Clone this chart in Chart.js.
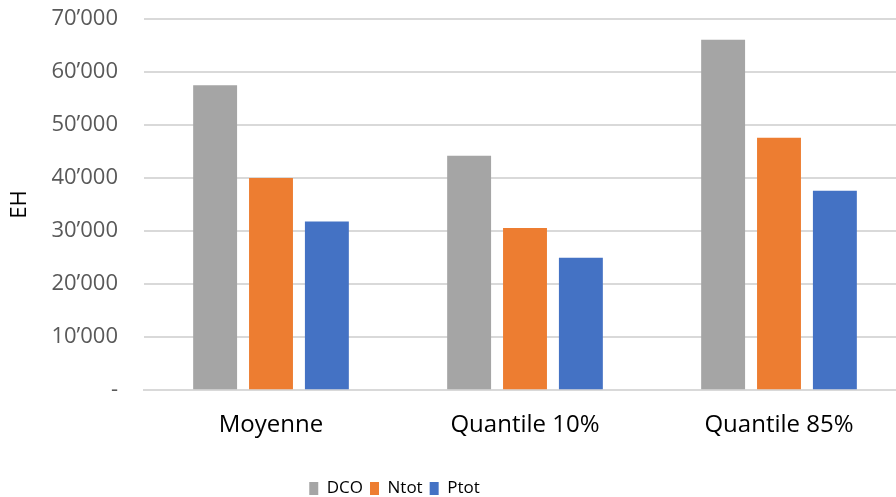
<!DOCTYPE html>
<html lang="fr">
<head>
  <meta charset="UTF-8" />
  <title>EH par indicateur</title>
  <script src="https://cdn.jsdelivr.net/npm/chart.js@4.4.0/dist/chart.umd.min.js"></script>
  <style>
    html, body { margin: 0; padding: 0; background: #fff; overflow: hidden; }
    #wrap { width: 906px; height: 497px; position: relative; }
  </style>
</head>
<body>
  <div id="wrap"><canvas id="chart"></canvas></div>

  <script>
    const categories = ['Moyenne', 'Quantile 10%', 'Quantile 85%'];
    const dco = [57500, 44200, 66100];
    const ntot = [40000, 30600, 47600];
    const ptot = [31800, 25000, 37600];
    const seriesNames = ['DCO', 'Ntot', 'Ptot'];
    const seriesColors = ['#A5A5A5', '#ED7D31', '#4472C4'];

    function formatThousands(v) {
      if (v === 0) return '-';
      return String(v).replace(/\B(?=(\d{3})+(?!\d))/g, '\u2019');
    }

    // move the legend a bit left and down, like the original layout
    const legendShift = {
      id: 'legendShift',
      afterLayout(chart) {
        const lg = chart.legend;
        lg.left -= 62;
        lg.right -= 62;
        lg.top += 12;
        lg.bottom += 12;
      }
    };

    const ctx = document.getElementById('chart');
    new Chart(ctx, {
      type: 'bar',
      data: {
        labels: categories,
        datasets: [dco, ntot, ptot].map((d, i) => ({
          label: seriesNames[i],
          data: d,
          backgroundColor: seriesColors[i],
          borderWidth: 0,
          categoryPercentage: 0.66,
          barPercentage: 0.786
        }))
      },
      options: {
        responsive: true,
        maintainAspectRatio: false,
        animation: false,
        layout: { padding: { top: 0, left: 7, right: 0, bottom: 2 } },
        plugins: {
          legend: {
            position: 'bottom',
            labels: {
              boxWidth: 9,
              boxHeight: 13,
              padding: 7,
              color: '#000',
              font: { family: 'Open Sans', size: 17 }
            }
          },
          tooltip: { enabled: false }
        },
        scales: {
          x: {
            grid: { display: false, drawTicks: false },
            border: { color: '#d9d9d9', width: 2 },
            ticks: {
              color: '#000',
              padding: 21,
              font: { family: 'Open Sans', size: 24 }
            }
          },
          y: {
            min: 0,
            max: 70000,
            afterFit(s) {
              s.width = 137;
              s.paddingTop = 19;
              s.paddingBottom = 13;
            },
            title: {
              display: true,
              text: 'EH',
              color: '#000',
              font: { family: 'Open Sans', size: 22 },
              padding: 0
            },
            border: { display: false },
            grid: { color: '#d9d9d9', lineWidth: 2, drawTicks: false },
            ticks: {
              stepSize: 10000,
              color: '#595959',
              padding: 26,
              font: { family: 'Open Sans', size: 22 },
              callback: v => formatThousands(v)
            }
          }
        }
      },
      plugins: [legendShift]
    });
  </script>
</body>
</html>
